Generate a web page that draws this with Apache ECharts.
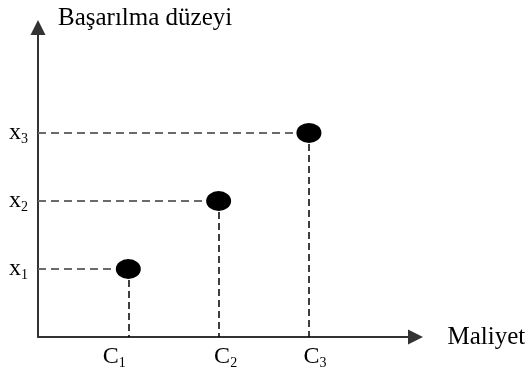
<!DOCTYPE html>
<html><head><meta charset="utf-8">
<script src="https://cdn.jsdelivr.net/npm/echarts@6/dist/echarts.min.js"></script>
<style>html,body{margin:0;padding:0;background:#fff}#c{width:530px;height:371px}</style>
</head><body><div id="c"></div>
<script>
// Data
const costValues = [1, 2, 3];          // C1, C2, C3 positions on the cost axis
const successValues = [1, 2, 3];       // x1, x2, x3 positions on the success axis
const costTickValues = [1, 2, 3];
const costTickMain = ['C', 'C', 'C'];
const costTickSub = ['1', '2', '3'];
const successTickValues = [1, 2, 3];
const successTickMain = ['x', 'x', 'x'];
const successTickSub = ['1', '2', '3'];
const xAxisName = 'Maliyet';
const yAxisName = 'Başarılma düzeyi';

const FONT = '"Liberation Serif", "Times New Roman", serif';
const points = costValues.map((c, i) => [c, successValues[i]]);

const hLines = points.map(p => [
  { coord: [0, p[1]], lineStyle: { color: '#6a6a6a', width: 2, type: [8, 5] } },
  { coord: [p[0], p[1]] }
]);
const vLines = points.map(p => [
  { coord: [p[0], p[1]], lineStyle: { color: '#000', width: 1.5, type: [7, 4] } },
  { coord: [p[0], 0] }
]);

// label shift styles (visual placement only)
const xShift = [[0, 28], [14, 0], [12, 0]];
const xRich = {};
costTickValues.forEach((v, i) => {
  xRich['m' + i] = { fontFamily: FONT, fontSize: 24, lineHeight: 24, color: '#000', padding: [0, 0, 0, xShift[i][0]] };
  xRich['s' + i] = { fontFamily: FONT, fontSize: 14, lineHeight: 14, color: '#000', verticalAlign: 'top', padding: [11, xShift[i][1], 0, 0] };
});
const yRich = {
  m: { fontFamily: FONT, fontSize: 24, lineHeight: 24, color: '#000' },
  s: { fontFamily: FONT, fontSize: 14, lineHeight: 14, color: '#000', verticalAlign: 'top', padding: [11, 0, 0, 0] }
};

const chart = echarts.init(document.getElementById('c'), null, { renderer: 'canvas' });
chart.setOption({
  animation: false,
  backgroundColor: '#fff',
  grid: { left: 38, right: 114.5, top: 27.5, bottom: 34, containLabel: false },
  xAxis: {
    type: 'value', min: 0, max: 4.18, interval: 1,
    name: xAxisName, nameLocation: 'end', nameGap: 32,
    nameTextStyle: { fontFamily: FONT, fontSize: 25, color: '#000', align: 'left', verticalAlign: 'middle', padding: [6, 0, 0, 0] },
    axisLine: { show: true, onZero: false, symbol: ['none', 'triangle'], symbolSize: [15, 15], lineStyle: { color: '#333', width: 2 } },
    axisTick: { show: false },
    splitLine: { show: false },
    axisLabel: {
      margin: 8, showMinLabel: false, showMaxLabel: false,
      formatter: v => { const i = costTickValues.indexOf(v); return i < 0 ? '' : '{m' + i + '|' + costTickMain[i] + '}{s' + i + '|' + costTickSub[i] + '}'; },
      rich: xRich
    }
  },
  yAxis: {
    type: 'value', min: 0, max: 4.55, interval: 1,
    name: yAxisName, nameLocation: 'end', nameGap: 9,
    nameTextStyle: { fontFamily: FONT, fontSize: 25, color: '#000', align: 'left', verticalAlign: 'middle', padding: [0, 0, 0, 20] },
    axisLine: { show: true, onZero: false, symbol: ['none', 'triangle'], symbolSize: [15, 15], lineStyle: { color: '#333', width: 2 } },
    axisTick: { show: false },
    splitLine: { show: false },
    axisLabel: {
      margin: 10, showMinLabel: false, showMaxLabel: false,
      formatter: v => { const i = successTickValues.indexOf(v); return i < 0 ? '' : '{m|' + successTickMain[i] + '}{s|' + successTickSub[i] + '}'; },
      rich: yRich
    }
  },
  series: [{
    type: 'scatter',
    data: points,
    symbol: 'path://M0,10a10,8 0 1,0 20,0a10,8 0 1,0 -20,0Z',
    symbolSize: [25, 20],
    itemStyle: { color: '#000', opacity: 1 },
    z: 5,
    markLine: {
      silent: true, symbol: ['none', 'none'], label: { show: false },
      animation: false, z: 2,
      data: hLines.concat(vLines)
    }
  }]
});
</script></body></html>
